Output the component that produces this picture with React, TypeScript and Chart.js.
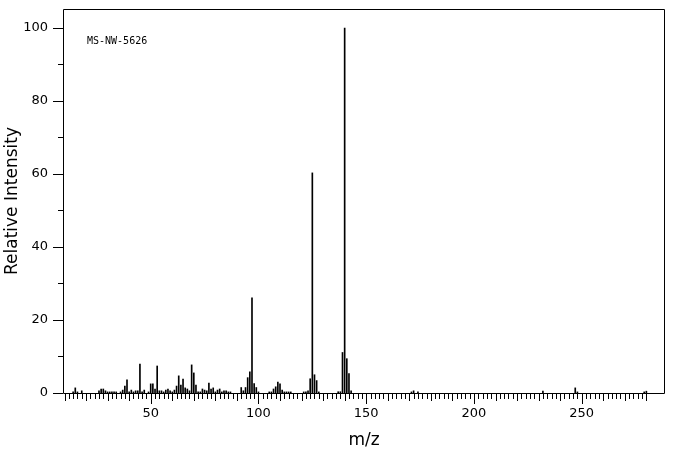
import React, { useEffect, useRef } from 'react';
import { Chart, registerables } from 'chart.js';

Chart.register(...registerables);

// m/z values of the peaks
const mzValues = [
  14, 15, 16, 18, 26, 27, 28, 29, 30, 31, 32, 33, 34, 36, 37, 38, 39, 40, 41, 42,
  43, 44, 45, 46, 47, 49, 50, 51, 52, 53, 54, 55, 56, 57, 58, 59, 60, 61, 62, 63,
  64, 65, 66, 67, 68, 69, 70, 71, 72, 73, 74, 75, 76, 77, 78, 79, 80, 81, 82, 83,
  84, 85, 86, 87, 92, 93, 94, 95, 96, 97, 98, 99, 100, 105, 106, 107, 108, 109, 110, 111,
  112, 113, 114, 115, 121, 122, 123, 124, 125, 126, 127, 128, 137, 138, 139, 140, 141, 142, 143, 171,
  172, 174, 232, 247, 248, 279, 280,
];

// relative intensities (%) matching mzValues
const intensities = [
  0.3, 1.4, 0.3, 0.6, 0.6, 1.1, 1.1, 0.6, 0.3, 0.3, 0.3, 0.3, 0.3, 0.3, 0.8, 1.9, 3.6, 0.3, 0.8, 0.3,
  0.6, 0.6, 7.9, 0.3, 0.8, 0.3, 2.5, 2.5, 1.1, 7.4, 0.6, 0.6, 0.3, 0.8, 1.1, 0.6, 0.3, 0.8, 1.9, 4.7,
  2.2, 3.8, 1.4, 1.1, 0.6, 7.7, 5.5, 2.2, 0.3, 0.3, 1.1, 0.8, 0.6, 2.7, 1.1, 1.4, 0.3, 0.8, 1.1, 0.3,
  0.6, 0.6, 0.3, 0.3, 1.5, 0.6, 1.5, 4.2, 5.8, 26.1, 2.6, 1.5, 0.3, 0.3, 0.3, 1.1, 1.7, 3.0, 2.5, 0.8,
  0.3, 0.3, 0.3, 0.3, 0.3, 0.3, 0.6, 3.9, 60.3, 5.0, 3.4, 0.3, 0.35, 0.35, 11.1, 100, 9.4, 5.3, 0.6, 0.3,
  0.6, 0.3, 0.5, 1.4, 0.3, 0.3, 0.5,
];

const xTickLabels = [50, 100, 150, 200, 250];
const yTickLabels = [0, 20, 40, 60, 80, 100];
const yMinorTicks = [10, 30, 50, 70, 90];
const xMinorFrom = 10;
const xMinorTo = 280;
const xMinorStep = 2;
const xMediumEvery = 10;
const xMin = 9.3;
const xMax = 288.65;
const yMin = 0;
const yMax = 105.2;
const spectrumId = 'MS-NW-5626';
const xTitle = 'm/z';
const yTitle = 'Relative Intensity';

const frameTicksPlugin = {
  id: 'frameTicks',
  afterDraw(chart: any) {
    const { ctx, chartArea: a, scales } = chart;
    const xs = scales.x;
    const ys = scales.y;
    const L = Math.round(a.left);
    const T = Math.round(a.top);
    const R = Math.round(a.right);
    const B = Math.round(a.bottom);
    ctx.save();
    ctx.strokeStyle = '#000';
    ctx.lineWidth = 1;
    ctx.beginPath();
    ctx.moveTo(L + 0.5, T + 0.5);
    ctx.lineTo(R - 0.5, T + 0.5);
    ctx.lineTo(R - 0.5, B + 0.5);
    ctx.lineTo(L + 0.5, B + 0.5);
    ctx.closePath();
    ctx.stroke();

    ctx.beginPath();
    for (let m = xMinorFrom; m <= xMinorTo; m += xMinorStep) {
      const isMajor = xTickLabels.includes(m);
      const len = isMajor ? 10 : m % xMediumEvery === 0 ? 7 : 5;
      const px = Math.round(xs.getPixelForValue(m)) + 0.5;
      ctx.moveTo(px, B + 1);
      ctx.lineTo(px, B + 1 + len);
    }
    for (const v of yTickLabels) {
      const py = Math.round(ys.getPixelForValue(v)) + 0.5;
      ctx.moveTo(L, py);
      ctx.lineTo(L - 10, py);
    }
    for (const v of yMinorTicks) {
      const py = Math.round(ys.getPixelForValue(v)) + 0.5;
      ctx.moveTo(L, py);
      ctx.lineTo(L - 5, py);
    }
    ctx.stroke();

    ctx.fillStyle = '#000';
    ctx.font = '10px "DejaVu Sans Mono"';
    ctx.textBaseline = 'middle';
    ctx.textAlign = 'left';
    ctx.fillText(spectrumId, L + 24, T + 32);
    ctx.restore();
  },
};

export default function App() {
  const canvasRef = useRef<HTMLCanvasElement | null>(null);

  useEffect(() => {
    if (!canvasRef.current) return;
    const points = mzValues.map((m, i) => ({ x: m, y: intensities[i] }));
    const tickFont = { family: 'DejaVu Sans', size: 13 };
    const titleFont = { family: 'DejaVu Sans', size: 17 };
    const chart = new Chart(canvasRef.current, {
      type: 'bar',
      data: {
        datasets: [
          {
            data: points as any,
            backgroundColor: '#000',
            borderWidth: 0,
            barThickness: 1,
          },
        ],
      },
      options: {
        animation: false,
        responsive: true,
        maintainAspectRatio: false,
        layout: { padding: { top: 9, right: 11, left: 0, bottom: 0 } },
        plugins: { legend: { display: false }, tooltip: { enabled: false } },
        scales: {
          x: {
            type: 'linear',
            min: xMin,
            max: xMax,
            offset: false,
            grid: { display: false, drawTicks: false },
            border: { display: false },
            afterBuildTicks: (s: any) => {
              s.ticks = xTickLabels.map((v) => ({ value: v }));
            },
            afterFit: (s: any) => {
              s.height = 62;
              s.paddingLeft = 0;
              s.paddingRight = 0;
            },
            ticks: {
              padding: 13,
              font: tickFont,
              color: '#000',
              maxRotation: 0,
              autoSkip: false,
            },
            title: {
              display: true,
              text: xTitle,
              font: titleFont,
              color: '#000',
              padding: { top: 0, bottom: 4 },
            },
          },
          y: {
            type: 'linear',
            min: yMin,
            max: yMax,
            grid: { display: false, drawTicks: false },
            border: { display: false },
            afterBuildTicks: (s: any) => {
              s.ticks = yTickLabels.map((v) => ({ value: v }));
            },
            afterFit: (s: any) => {
              s.width = 63;
              s.paddingTop = 0;
              s.paddingBottom = 0;
            },
            ticks: {
              padding: 15,
              font: tickFont,
              color: '#000',
              autoSkip: false,
            },
            title: {
              display: true,
              text: yTitle,
              font: titleFont,
              color: '#000',
              padding: { top: 2, bottom: 0 },
            },
          },
        },
      } as any,
      plugins: [frameTicksPlugin],
    });
    return () => chart.destroy();
  }, []);

  return (
    <div style={{ position: 'absolute', left: 0, top: 0, width: 676, height: 455, background: '#fff' }}>
      <canvas ref={canvasRef} />
    </div>
  );
}
